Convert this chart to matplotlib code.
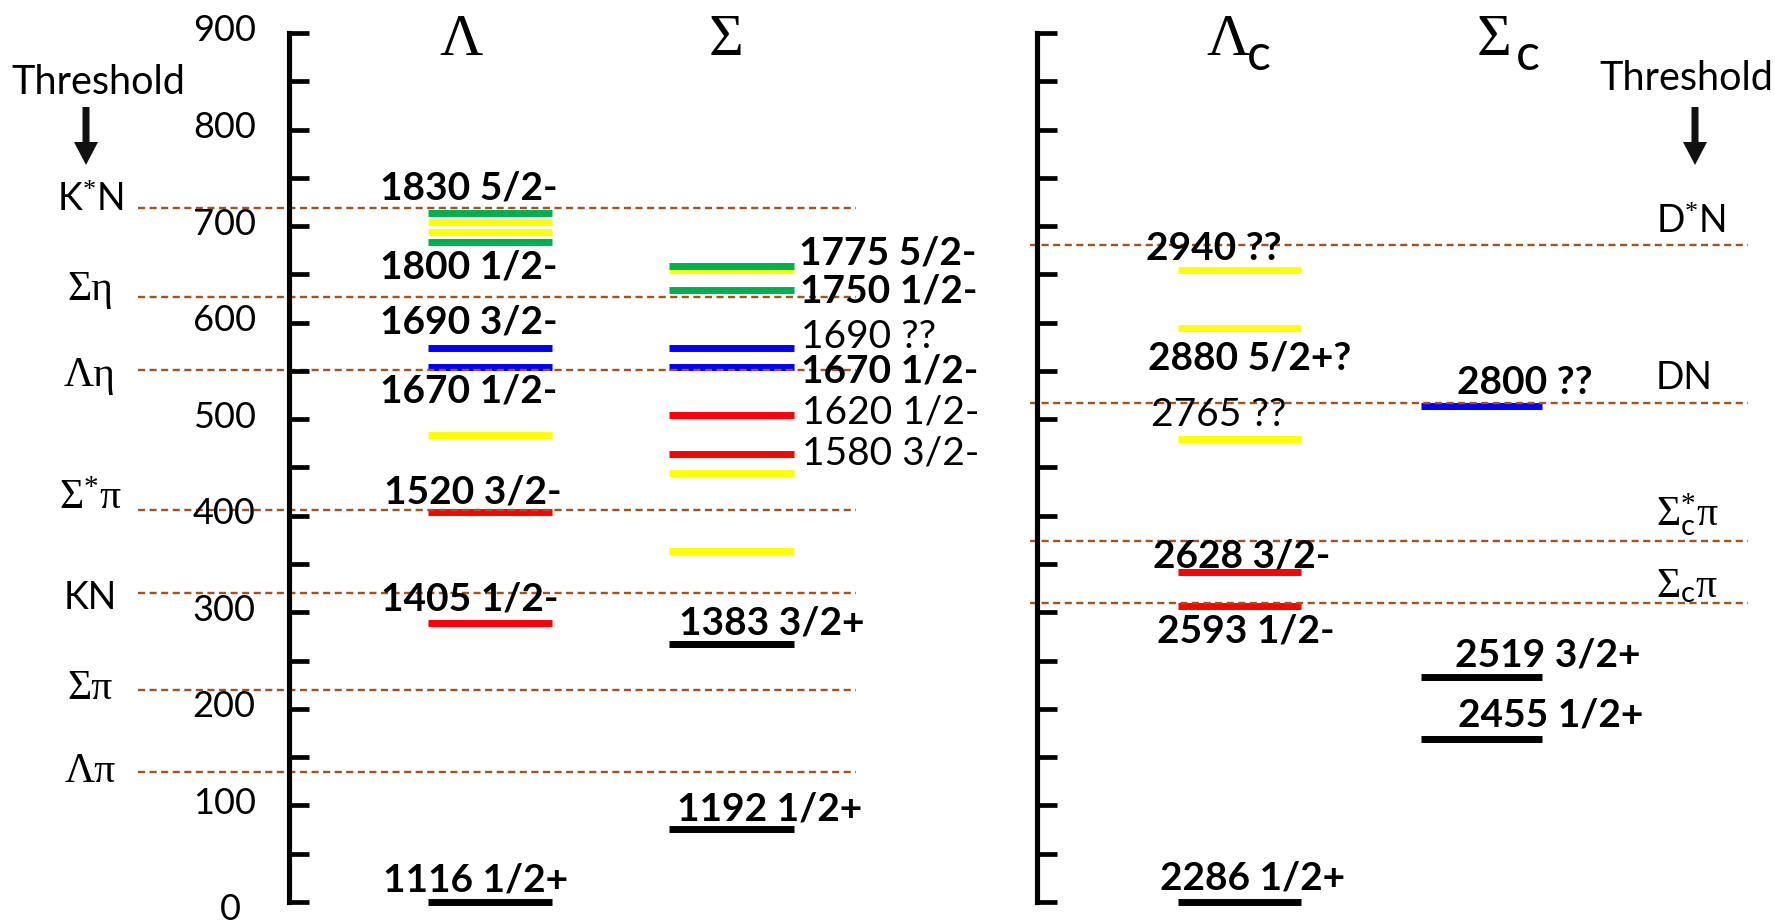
import numpy as np
import matplotlib
matplotlib.use("Agg")
import matplotlib.pyplot as plt
import matplotlib.transforms as mtransforms
from matplotlib.ticker import MultipleLocator

plt.rcParams['font.family'] = ['Lato', 'DejaVu Sans']
plt.rcParams['mathtext.fontset'] = 'custom'
plt.rcParams['mathtext.rm'] = 'Liberation Serif'
plt.rcParams['mathtext.it'] = 'Liberation Serif'
plt.rcParams['mathtext.sf'] = 'Lato'

# ground states (MeV)
lam_ground = 1116
lamc_ground = 2286

# level masses (MeV) and bar colours, one list per column
lam_mass = [1116, 1405, 1520, 1600, 1670, 1690, 1800, 1810, 1820, 1830]
lam_color = ['black', 'red', 'red', 'yellow', 'blue', 'blue', 'green', 'yellow', 'yellow', 'green']
sig_mass = [1192, 1383, 1480, 1560, 1580, 1620, 1670, 1690, 1750, 1770, 1775]
sig_color = ['black', 'black', 'yellow', 'yellow', 'red', 'red', 'blue', 'blue', 'green', 'yellow', 'green']
lamc_mass = [2286, 2593, 2628, 2765, 2880, 2940]
lamc_color = ['black', 'red', 'red', 'yellow', 'yellow', 'yellow']
sigc_mass = [2455, 2519, 2800]
sigc_color = ['black', 'black', 'blue']

# state labels "mass J^P"
lam_tags = ['1830 5/2-', '1800 1/2-', '1690 3/2-', '1670 1/2-', '1520 3/2-', '1405 1/2-', '1116 1/2+']
sig_tags = ['1775 5/2-', '1750 1/2-', '1690 ??', '1670 1/2-', '1620 1/2-', '1580 3/2-', '1383 3/2+', '1192 1/2+']
lamc_tags = ['2940 ??', '2880 5/2+?', '2765 ??', '2628 3/2-', '2593 1/2-', '2286 1/2+']
sigc_tags = ['2800 ??', '2519 3/2+', '2455 1/2+']
light_tags = {'1690 ??', '1620 1/2-', '1580 3/2-', '2765 ??'}

# thresholds, MeV above the ground state
thr_left = [135, 220, 320, 406, 551, 627, 719]
thr_left_names = ['Λπ', 'Σπ', 'KN', 'Σ$^{*}$π', 'Λη', 'Ση', 'K$^{*}$N']
thr_right = [310, 374, 517, 680]
thr_right_names = ['Σ$_\\mathsf{c}$π', 'Σ$_\\mathsf{c}^{*}$π', 'DN', 'D$^{*}$N']

yticks = np.arange(0, 901, 100)

colmap = {'black': 'black', 'red': '#FF0000', 'yellow': '#FFFF00',
          'blue': '#0000FF', 'green': '#00B050'}
dash_color = '#A4531C'

W, H = 1775, 923
PX = 0.9656   # pixels per MeV
Y0 = 902      # pixel row of the zero level
ylo, yhi = -(H - Y0) / PX, Y0 / PX


def row(ypx):
    return (Y0 - ypx) / PX


fig = plt.figure(figsize=(W / 100, H / 100), dpi=100)
ax = fig.add_axes([0, 0, 1, 1])
ax.set_xlim(0, W)
ax.set_ylim(ylo, yhi)
ax.axis('off')

# --- level bars
columns = [
    (lam_mass, lam_color, lam_ground, 428, 552),
    (sig_mass, sig_color, lam_ground, 669, 794),
    (lamc_mass, lamc_color, lamc_ground, 1178, 1301),
    (sigc_mass, sigc_color, lamc_ground, 1421, 1542),
]
for masses, colors, ground, x0, x1 in columns:
    e = np.array(masses) - ground
    ax.hlines(e, x0, x1, colors=[colmap[c] for c in colors], linewidth=5,
              capstyle='butt', zorder=2)

# --- state labels: (left x, offset of text centre above the bar)
tag_layout = [
    (lam_tags, lam_ground, [(380, 28.5), (380, -24), (380, 29), (380, -22),
                            (384, 23), (381, 27), (383, 25)]),
    (sig_tags, lam_ground, [(799, 16), (800, 1), (801, 14), (801, -2),
                            (802, 6), (802, 4), (679, 25), (677, 23)]),
    (lamc_tags, lamc_ground, [(1146, 25), (1148, -28), (1151, 28), (1153, 19),
                              (1157, -24), (1160, 27)]),
    (sigc_tags, lamc_ground, [(1457, 27), (1455, 25), (1458, 27)]),
]
for tags, ground, pos in tag_layout:
    for tag, (x, dy) in zip(tags, pos):
        e = float(tag.split()[0]) - ground
        ax.text(x, e + dy - 14.5, tag, fontsize=28, ha='left', va='baseline',
                fontweight='normal' if tag in light_tags else 'bold', zorder=4)

# --- threshold lines
ax.hlines(thr_left, 138, 856, colors=dash_color, linewidth=1.7,
          linestyles=(0, (3.0, 1.9)), zorder=3)
ax.hlines(thr_right, 1030, 1748, colors=dash_color, linewidth=1.7,
          linestyles=(0, (3.0, 1.9)), zorder=3)

serif = ['Liberation Serif', 'DejaVu Serif']
sans = ['Lato', 'DejaVu Sans']

left_shift = [-10, -9, -16, 1, -16, -3, -3]
for e, name, d in zip(thr_left, thr_left_names, left_shift):
    greek = name[0] in 'ΛΣ'
    ax.text(90, e + d / PX, name, family=serif if greek else sans,
            fontsize=30 if greek else 27, ha='center', va='baseline')

right_shift = [5, 14, 14, 12]
for e, name, d in zip(thr_right, thr_right_names, right_shift):
    greek = name[0] in 'ΛΣ'
    ax.text(1656, e + d / PX, name, family=serif if greek else sans,
            fontsize=30 if greek else 27, ha='left', va='baseline')

# --- "Threshold" headers with arrows
for xc, yb, xa in [(98, 94, 86), (1686, 90, 1695)]:
    ax.text(xc, row(yb), 'Threshold', fontsize=28.5, ha='center', va='baseline')
    ax.arrow(xa, row(107), 0, row(165) - row(107), width=7, head_width=24,
             head_length=23 / PX, length_includes_head=True, color='#111111', lw=0)

# --- column titles
ax.text(461, row(55), 'Λ', family=serif, fontsize=43, ha='center', va='baseline')
ax.text(726, row(55), 'Σ', family=serif, fontsize=43, ha='center', va='baseline')
ax.text(1228, row(55), 'Λ', family=serif, fontsize=43, ha='center', va='baseline')
ax.text(1259, row(70), 'c', fontsize=36, ha='center', va='baseline')
ax.text(1494, row(55), 'Σ', family=serif, fontsize=43, ha='center', va='baseline')
ax.text(1528, row(70), 'c', fontsize=36, ha='center', va='baseline')


# --- energy scales
def scale_axis(xpx, labels):
    a = fig.add_axes([xpx / W, 0, 0.2, 1])
    a.set_ylim(ylo, yhi)
    a.patch.set_visible(False)
    for s in ['top', 'right', 'bottom']:
        a.spines[s].set_visible(False)
    sp = a.spines['left']
    sp.set_linewidth(3.7)
    sp.set_bounds(0, 900)
    sp.set_capstyle('projecting')
    a.set_xticks([])
    a.set_yticks(yticks)
    a.yaxis.set_minor_locator(MultipleLocator(50))
    a.tick_params(axis='y', which='both', direction='in', length=14.5, width=3.4,
                  color='black')
    if labels:
        a.set_yticklabels([str(t) for t in yticks])
        a.tick_params(axis='y', which='major', labelsize=26, pad=24)
        up = mtransforms.ScaledTranslation(0, 3.6 / 72, fig.dpi_scale_trans)
        zero = mtransforms.ScaledTranslation(-15 / 100, -4 / 100, fig.dpi_scale_trans)
        for t, lbl in zip(yticks, a.get_yticklabels()):
            lbl.set_transform(lbl.get_transform() + (zero if t == 0 else up))
    else:
        a.set_yticklabels([])
    return a


scale_axis(289, True)
scale_axis(1037, False)

fig.savefig('out.png', dpi=100)
